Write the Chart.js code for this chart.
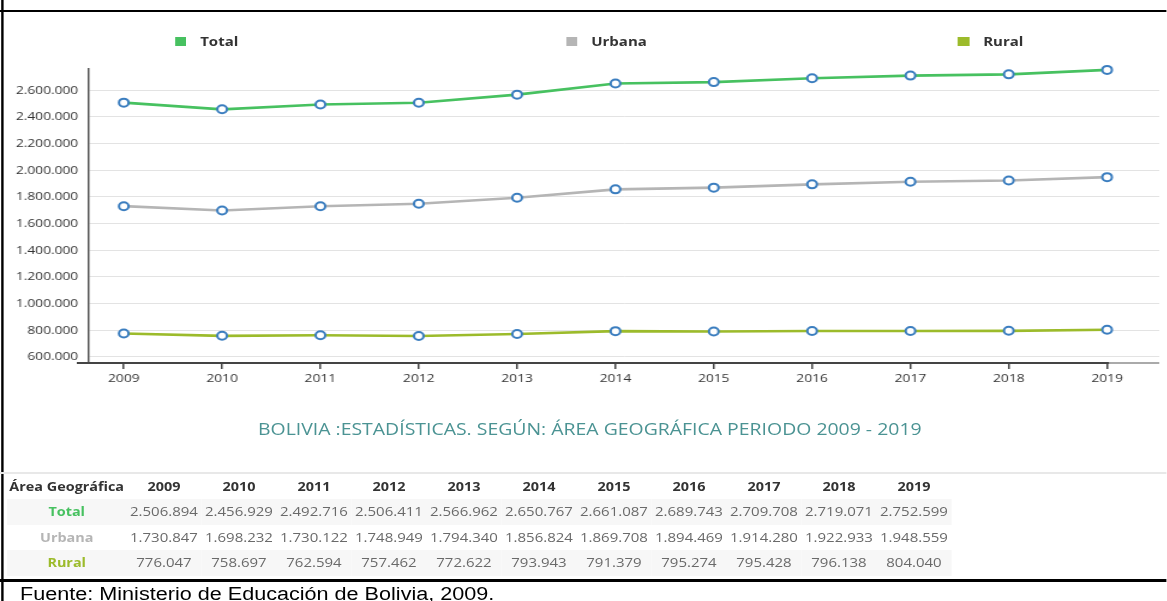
<!DOCTYPE html>
<html><head><meta charset="utf-8">
<script src="https://cdn.jsdelivr.net/npm/chart.js@4.4.1/dist/chart.umd.min.js"></script>
<style>
::-webkit-scrollbar{display:none;width:0;height:0;}
html{margin:0;padding:0;overflow:hidden;scrollbar-width:none;}
body{margin:0;padding:0;background:#fff;width:1167px;height:601px;overflow:hidden;position:relative;}
#page{position:absolute;left:0;top:0;width:972px;height:601px;transform:scaleX(1.2);transform-origin:0 0;}
.line{position:absolute;background:#000;}
.leg{position:absolute;top:33px;font:bold 12.5px "Open Sans",sans-serif;color:#333;white-space:nowrap;}
.leg i{position:absolute;left:0;top:3.5px;width:9.5px;height:9.5px;}
.leg span{position:absolute;left:21px;top:0;line-height:17px;}
#title{position:absolute;left:215px;top:417px;font:17px "Open Sans",sans-serif;color:#4b9393;white-space:nowrap;transform-origin:0 0;}
#tbl{position:absolute;left:5.8px;top:474px;border-collapse:collapse;table-layout:fixed;}
#tbl td,#tbl th{padding:0;text-align:center;white-space:nowrap;}
#tbl th{font:bold 12px "Open Sans",sans-serif;color:#333;height:25px;}
#tbl td{font:12.5px "Open Sans",sans-serif;color:#6a6a6a;height:25.5px;}
#tbl td.lab{font:bold 12px "Open Sans",sans-serif;}
#tbl tr.sh td{background:#f7f7f7;}
#foot{position:absolute;left:16.7px;top:584px;height:17px;font:18px "Liberation Sans",Arial,sans-serif;color:#000;white-space:nowrap;}
</style></head>
<body>
<div id="page">
  <div class="line" style="left:0;top:10px;width:972px;height:2px;"></div>
  <div class="line" style="left:0.9px;top:0;width:1.7px;height:601px;"></div>
  <div class="line" style="left:0;top:579px;width:972px;height:2.5px;"></div>
  <div id="legend"></div>
  <div style="position:absolute;left:0;top:53px;width:972px;height:348px;">
    <canvas id="c" width="972" height="348" style="width:972px;height:348px;display:block;"></canvas>
  </div>
  <div id="title">BOLIVIA :ESTADÍSTICAS. SEGÚN: ÁREA GEOGRÁFICA PERIODO 2009 - 2019</div>
  <div style="position:absolute;left:0;top:472px;width:972px;height:2px;background:#e8e8e8;"></div>
  <table id="tbl"></table>
  <div id="foot">Fuente: Ministerio de Educación de Bolivia, 2009.</div>
</div>
<script>
const years = [2009, 2010, 2011, 2012, 2013, 2014, 2015, 2016, 2017, 2018, 2019];
const total = [2506894, 2456929, 2492716, 2506411, 2566962, 2650767, 2661087, 2689743, 2709708, 2719071, 2752599];
const urbana = [1730847, 1698232, 1730122, 1748949, 1794340, 1856824, 1869708, 1894469, 1914280, 1922933, 1948559];
const rural = [776047, 758697, 762594, 757462, 772622, 793943, 791379, 795274, 795428, 796138, 804040];
const seriesNames = ['Total', 'Urbana', 'Rural'];
const seriesColors = ['#47c160', '#b5b5b5', '#9cbb2b'];
const yTickValues = [600000, 800000, 1000000, 1200000, 1400000, 1600000, 1800000, 2000000, 2200000, 2400000, 2600000];
const tableHeader = 'Área Geográfica';

function fmt(v){ return String(Math.round(v)).replace(/\B(?=(\d{3})+(?!\d))/g, '.'); }

// Legend
const legLefts = [145.8, 471.7, 798.3];
const legend = document.getElementById('legend');
seriesNames.forEach((n, i) => {
  const d = document.createElement('div');
  d.className = 'leg';
  d.style.left = legLefts[i] + 'px';
  d.innerHTML = '<i style="background:' + seriesColors[i] + '"></i><span>' + n + '</span>';
  legend.appendChild(d);
});

// Table
const tbl = document.getElementById('tbl');
let html = '<colgroup><col style="width:99.6px">' + years.map(() => '<col style="width:62.5px">').join('') + '</colgroup>';
html += '<tr><th>' + tableHeader + '</th>' + years.map(y => '<th>' + y + '</th>').join('') + '</tr>';
[total, urbana, rural].forEach((arr, i) => {
  html += '<tr class="' + (i % 2 === 0 ? 'sh' : '') + '"><td class="lab" style="color:' + seriesColors[i] + '">' + seriesNames[i] + '</td>' + arr.map(v => '<td>' + fmt(v) + '</td>').join('') + '</tr>';
});
tbl.innerHTML = html;

// Title fit
const t = document.getElementById('title');
const tw = t.getBoundingClientRect().width / 1.2;
t.style.transform = 'scaleX(' + (553 / tw) + ')';

// Chart
const axisPlugin = {
  id: 'axisLine',
  afterDraw(chart) {
    const ctx = chart.ctx, xs = chart.scales.x, y = chart.chartArea.bottom;
    const xe = xs.getPixelForValue(years[years.length - 1]) + 2;
    ctx.save();
    ctx.lineWidth = 1.8;
    ctx.strokeStyle = '#444';
    ctx.beginPath(); ctx.moveTo(64, y); ctx.lineTo(xe, y); ctx.stroke();
    ctx.strokeStyle = '#aaa';
    ctx.beginPath(); ctx.moveTo(xe, y); ctx.lineTo(chart.chartArea.right, y); ctx.stroke();
    ctx.restore();
  }
};

const mk = (arr, i) => ({
  label: seriesNames[i],
  data: arr.map((v, k) => ({x: years[k], y: v})),
  borderColor: seriesColors[i],
  backgroundColor: seriesColors[i],
  borderWidth: 2.6,
  pointRadius: 4,
  pointBorderWidth: 2,
  pointBorderColor: '#3a7dbf',
  pointBackgroundColor: '#fff',
  tension: 0,
  clip: false
});

new Chart(document.getElementById('c'), {
  type: 'line',
  data: { datasets: [mk(total, 0), mk(urbana, 1), mk(rural, 2)] },
  options: {
    responsive: false,
    animation: false,
    devicePixelRatio: 1,
    layout: { padding: { top: 13, left: 0, right: 0, bottom: 0 } },
    plugins: { legend: { display: false }, tooltip: { enabled: false } },
    scales: {
      x: {
        type: 'linear',
        min: 2008.647,
        max: 2019.53,
        afterBuildTicks: s => { s.ticks = years.map(v => ({value: v})); },
        afterFit: s => { s.height = 38; },
        ticks: { callback: v => String(v), color: '#333', font: { family: 'Open Sans', size: 11.5 }, padding: 3, maxRotation: 0, autoSkip: false },
        grid: { drawOnChartArea: false, drawTicks: true, tickLength: 6, color: '#444', lineWidth: 1.5 },
        border: { display: false }
      },
      y: {
        min: 555000,
        max: 2760000,
        afterBuildTicks: s => { s.ticks = yTickValues.map(v => ({value: v})); },
        afterFit: s => { s.width = 74.2; },
        ticks: { callback: v => fmt(v), color: '#333', font: { family: 'Open Sans', size: 11.5 }, padding: 9 },
        grid: { color: '#e3e3e3', lineWidth: 1, drawTicks: false },
        border: { display: true, color: '#555', width: 1.5 }
      }
    }
  },
  plugins: [axisPlugin]
});
</script>
</body></html>
